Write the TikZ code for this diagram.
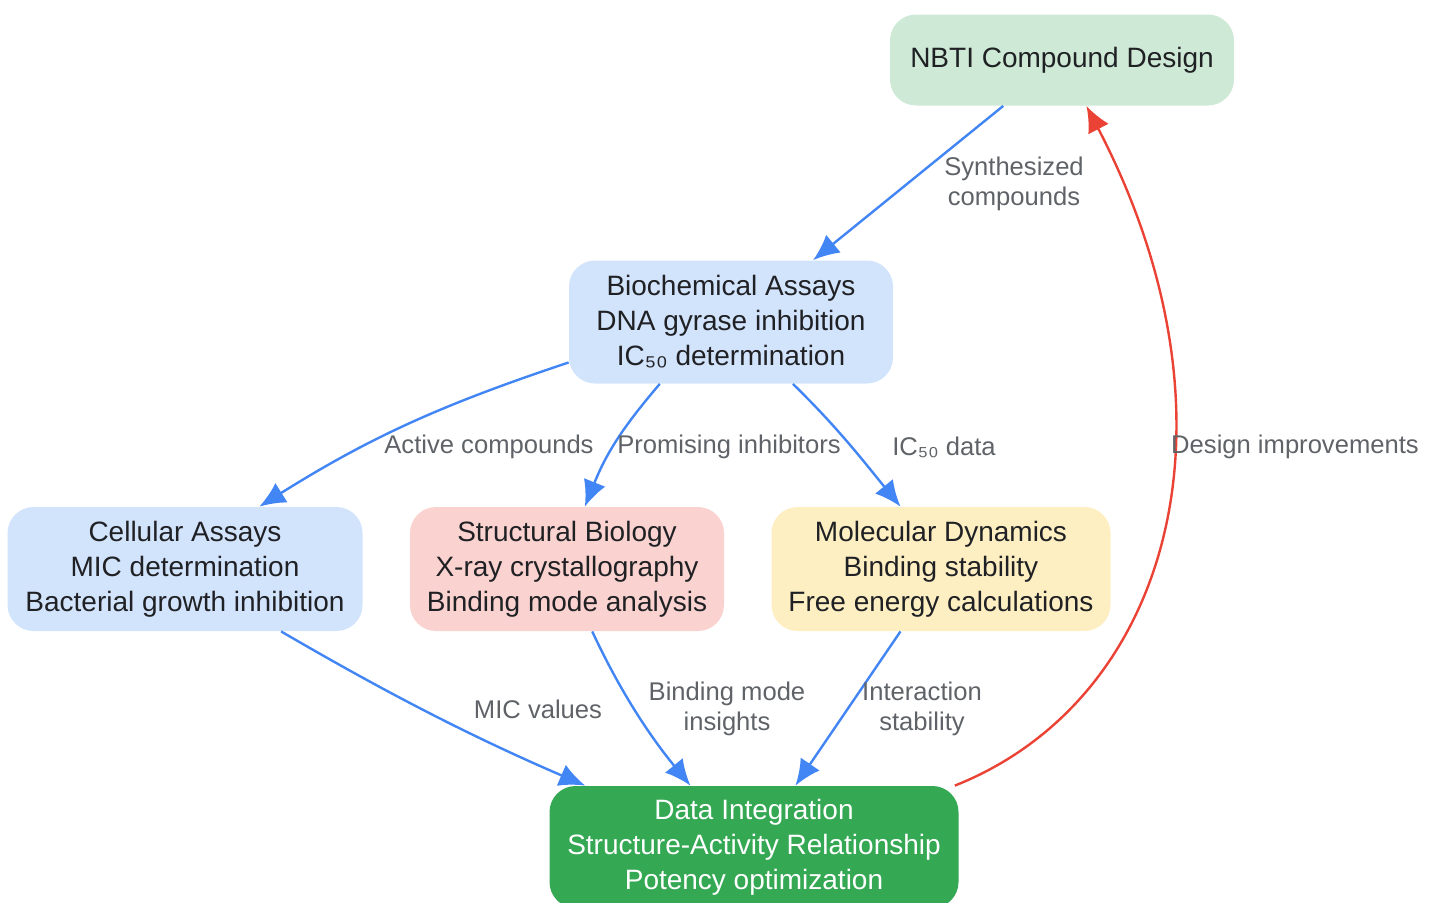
\documentclass[tikz,border=0pt]{standalone}
\usepackage{fontspec}
\setmainfont{Liberation Sans}
\usetikzlibrary{arrows.meta}
\definecolor{ink}{HTML}{202124}
\definecolor{lblgray}{HTML}{5F6368}
\definecolor{flowblue}{HTML}{4285F4}
\definecolor{backred}{HTML}{EA4335}
\definecolor{designgreen}{HTML}{CEEAD6}
\definecolor{assayblue}{HTML}{D2E3FC}
\definecolor{structpink}{HTML}{FAD2CF}
\definecolor{mdyellow}{HTML}{FEEFC3}
\definecolor{datagreen}{HTML}{34A853}
\tikzset{
  box/.style={rounded corners=13pt, minimum height=62pt, inner sep=0pt, align=center,
    text=ink, font=\fontsize{14}{17.5}\selectfont},
  flow/.style={draw=flowblue, line width=1.2pt, -{Latex[length=13pt,width=11.5pt]}},
  back/.style={flow, draw=backred},
  lbl/.style={text=lblgray, align=center, font=\fontsize{12.8}{15}\selectfont},
}

\begin{document}
\begin{tikzpicture}[x=0.5pt,y=-0.5pt]
  \useasboundingbox (0,0) rectangle (1434,902);
  % boxes
  \node[box,fill=designgreen,minimum width=172pt,minimum height=45.5pt] (design) at (1062,60) {NBTI Compound Design};
  \node[box,fill=assayblue,minimum width=162pt,minimum height=61.5pt] (bio) at (731,322) {Biochemical Assays\\DNA gyrase inhibition\\IC₅₀ determination};
  \node[box,fill=assayblue,minimum width=177.5pt] (cell) at (185,569) {Cellular Assays\\MIC determination\\Bacterial growth inhibition};
  \node[box,fill=structpink,minimum width=157pt] (struct) at (567,569) {Structural Biology\\X-ray crystallography\\Binding mode analysis};
  \node[box,fill=mdyellow,minimum width=169.5pt] (md) at (941,569) {Molecular Dynamics\\Binding stability\\Free energy calculations};
  \node[box,fill=datagreen,text=white,minimum width=204.5pt,minimum height=61pt] (data) at (754,847) {Data Integration\\Structure-Activity Relationship\\Potency optimization};
  % flows
  \draw[flow] (design.218) -- (bio.37);
  \draw[flow] (bio.194) .. controls (444,404) and (372,436) .. (cell.40);
  \draw[flow] (bio.221) .. controls (622,428) and (606,454) .. (struct.74);
  \draw[flow] (bio.315) .. controls (837,427) and (861,458) .. (md.123);
  \draw[flow] (cell.327) .. controls (385,692) and (470,736) .. (data.160);
  \draw[flow] (struct.292) .. controls (620,691) and (649,735) .. (data.136);
  \draw[flow] (md.237) -- (data.56);
  \draw[back] (data.17) .. controls (1170,700) and (1250,420) .. (design.298);
  % labels
  \node[lbl] (l1) at (1014,184) {Synthesized\\compounds};
  \node[lbl] (l2) at (489,447) {Active compounds};
  \node[lbl] (l3) at (729,447) {Promising inhibitors};
  \node[lbl] (l4) at (944,447) {IC₅₀ data};
  \node[lbl] (l5) at (538,709) {MIC values};
  \node[lbl] (l6) at (727,709) {Binding mode\\insights};
  \node[lbl] (l7) at (922,709) {Interaction\\stability};
  \node[lbl] (l8) at (1295,447) {Design improvements};
\end{tikzpicture}
\end{document}
